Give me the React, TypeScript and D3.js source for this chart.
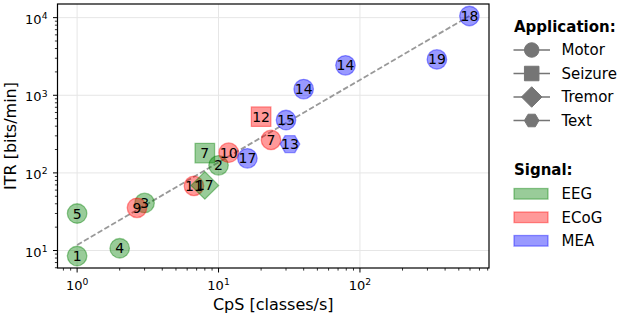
import React from "react";
import * as d3 from "d3";

// ---- data ----
const refs = ["1", "5", "4", "3", "2", "9", "11", "10", "7", "17", "15", "14", "14", "19", "18", "7", "12", "17", "13"];
const cps = [1, 1, 2, 3, 10, 2.65, 6.7, 11.8, 23.5, 16, 30, 40, 79, 350, 594, 8, 20, 8, 32];
const itr = [8.5, 30, 10.7, 41, 125, 35.5, 68, 182, 266, 154, 480, 1200, 2430, 2900, 10500, 180, 530, 69, 235];
const signal = ["EEG", "EEG", "EEG", "EEG", "EEG", "ECoG", "ECoG", "ECoG", "ECoG", "MEA", "MEA", "MEA", "MEA", "MEA", "MEA", "EEG", "ECoG", "EEG", "MEA"];
const application = ["Motor", "Motor", "Motor", "Motor", "Motor", "Motor", "Motor", "Motor", "Motor", "Motor", "Motor", "Motor", "Motor", "Motor", "Motor", "Seizure", "Seizure", "Tremor", "Text"];

const fitX = [1, 594];
const fitY = [11.8, 10500];

const applications = ["Motor", "Seizure", "Tremor", "Text"];
const signals = ["EEG", "ECoG", "MEA"];
const signalColors = ["#008000", "#ff0000", "#0000ff"];
const xTickExps = [0, 1, 2];
const yTickExps = [1, 2, 3, 4];

// ---- layout ----
const W = 624, H = 317;
const L = 57.5, R = 489, T = 4, B = 268;
const FONT = "DejaVu Sans, sans-serif";

function logPad(vals: number[]) {
  const lo = Math.log10(d3.min(vals)!), hi = Math.log10(d3.max(vals)!);
  const p = (hi - lo) * 0.05;
  return [Math.pow(10, lo - p), Math.pow(10, hi + p)];
}

const x = d3.scaleLog().domain(logPad(cps)).range([L, R]);
const y = d3.scaleLog().domain(logPad(itr)).range([B, T]);

const color = d3.scaleOrdinal<string, string>().domain(signals).range(signalColors);

function markerPath(kind: string, cx: number, cy: number, s: number) {
  const p = d3.path();
  if (kind === "Motor") {
    p.arc(cx, cy, s / 2, 0, Math.PI * 2);
  } else if (kind === "Seizure") {
    p.rect(cx - s / 2, cy - s / 2, s, s);
  } else if (kind === "Tremor") {
    const h = (s * Math.SQRT2) / 2;
    p.moveTo(cx, cy - h);
    p.lineTo(cx + h, cy);
    p.lineTo(cx, cy + h);
    p.lineTo(cx - h, cy);
  } else {
    const r = s / 2;
    for (let i = 0; i < 6; i++) {
      const a = (Math.PI / 3) * i;
      const px = cx + r * Math.cos(a), py = cy + r * Math.sin(a);
      if (i === 0) p.moveTo(px, py);
      else p.lineTo(px, py);
    }
  }
  p.closePath();
  return p.toString();
}

function minorTicks(scale: d3.ScaleLogarithmic<number, number>) {
  const [a, b] = scale.domain();
  const out: number[] = [];
  for (let e = Math.floor(Math.log10(a)); e <= Math.ceil(Math.log10(b)); e++) {
    for (let m = 2; m <= 9; m++) {
      const v = m * Math.pow(10, e);
      if (v >= a && v <= b) out.push(v);
    }
  }
  return out;
}

export default function App() {
  const xMinor = minorTicks(x);
  const yMinor = minorTicks(y);
  const idx = d3.range(refs.length);
  const S = 19.5;
  const LS = 14.5;
  const legX0 = 513.5, legX1 = 550, legMX = 531.7, legTX = 561.5;
  const appRows = [50, 73.5, 97, 120.5];
  const sigRows = [193.8, 217.3, 240.8];

  return (
    <svg width={W} height={H} style={{ position: "absolute", left: 0, top: 0, background: "#fff" }} fontFamily={FONT}>
      <rect x={0} y={0} width={W} height={H} fill="#fff" />
      {/* grid */}
      {xTickExps.map((e) => (
        <line key={"gx" + e} x1={x(Math.pow(10, e))} x2={x(Math.pow(10, e))} y1={T} y2={B} stroke="#e6e6e6" strokeWidth={1} />
      ))}
      {yTickExps.map((e) => (
        <line key={"gy" + e} x1={L} x2={R} y1={y(Math.pow(10, e))} y2={y(Math.pow(10, e))} stroke="#e6e6e6" strokeWidth={1} />
      ))}
      {/* fit line */}
      <line x1={x(fitX[0])} y1={y(fitY[0])} x2={x(fitX[1])} y2={y(fitY[1])} stroke="#999999" strokeWidth={1.8} strokeDasharray="5.5,2.4" />
      {/* markers */}
      {idx.map((i) => (
        <path
          key={"m" + i}
          d={markerPath(application[i], x(cps[i]), y(itr[i]), S)}
          fill={color(signal[i])}
          fillOpacity={0.4}
          stroke={color(signal[i])}
          strokeOpacity={0.4}
          strokeWidth={1.3}
        />
      ))}
      {idx.map((i) => (
        <text key={"t" + i} x={x(cps[i])} y={y(itr[i])} dy="0.36em" textAnchor="middle" fontSize={14} fill="#000">
          {refs[i]}
        </text>
      ))}
      {/* spines */}
      <rect x={L} y={T} width={R - L} height={B - T} fill="none" stroke="#000" strokeWidth={1.2} />
      {/* x ticks */}
      {xTickExps.map((e) => (
        <g key={"xt" + e}>
          <line x1={x(Math.pow(10, e))} x2={x(Math.pow(10, e))} y1={B} y2={B + 4.5} stroke="#000" strokeWidth={1} />
          <text x={x(Math.pow(10, e))} y={289.5} textAnchor="middle" fontSize={13}>
            10<tspan fontSize={9.2} dy={-4.8}>{e}</tspan>
          </text>
        </g>
      ))}
      {xMinor.map((v, k) => (
        <line key={"xm" + k} x1={x(v)} x2={x(v)} y1={B} y2={B + 2.6} stroke="#000" strokeWidth={0.8} />
      ))}
      {yTickExps.map((e) => (
        <g key={"yt" + e}>
          <line x1={L - 4.5} x2={L} y1={y(Math.pow(10, e))} y2={y(Math.pow(10, e))} stroke="#000" strokeWidth={1} />
          <text x={47.5} y={y(Math.pow(10, e)) + 6} textAnchor="end" fontSize={13}>
            10<tspan fontSize={9.2} dy={-4.5}>{e}</tspan>
          </text>
        </g>
      ))}
      {yMinor.map((v, k) => (
        <line key={"ym" + k} x1={L - 2.6} x2={L} y1={y(v)} y2={y(v)} stroke="#000" strokeWidth={0.8} />
      ))}
      {/* axis labels */}
      <text x={(L + R) / 2} y={310} textAnchor="middle" fontSize={16}>CpS [classes/s]</text>
      <text transform={`translate(15.5,${(T + B) / 2}) rotate(-90)`} textAnchor="middle" fontSize={16}>ITR [bits/min]</text>
      {/* legend: application */}
      <text x={514} y={32} fontSize={15} fontWeight="bold">Application:</text>
      {applications.map((a, k) => (
        <g key={"la" + a}>
          <line x1={legX0} x2={legX1} y1={appRows[k]} y2={appRows[k]} stroke="#757575" strokeWidth={1.6} />
          <path d={markerPath(a, legMX, appRows[k], LS)} fill="#757575" stroke="#757575" strokeWidth={1} />
          <text x={legTX} y={appRows[k]} dy="0.36em" fontSize={15}>{a}</text>
        </g>
      ))}
      {/* legend: signal */}
      <text x={514} y={175} fontSize={15} fontWeight="bold">Signal:</text>
      {signals.map((s, k) => (
        <g key={"ls" + s}>
          <rect x={514} y={sigRows[k] - 5.3} width={34} height={10.6} fill={color(s)} fillOpacity={0.4} stroke={color(s)} strokeOpacity={0.4} strokeWidth={1.3} />
          <text x={legTX} y={sigRows[k]} dy="0.36em" fontSize={15}>{s}</text>
        </g>
      ))}
    </svg>
  );
}
